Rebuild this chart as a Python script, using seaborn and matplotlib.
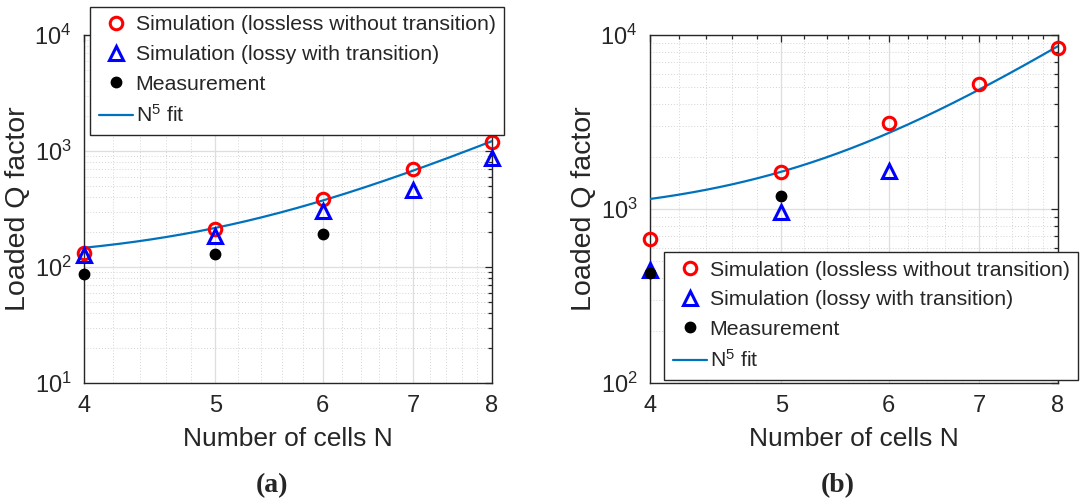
import numpy as np
import pandas as pd
import matplotlib
matplotlib.use("Agg")
import matplotlib.pyplot as plt
import seaborn as sns
from matplotlib.ticker import FixedLocator, FixedFormatter, NullFormatter, LogLocator, LogFormatterMathtext

# ---------------- data ----------------
cells_N = [4, 5, 6, 7, 8]
cells_lossy_b = [4, 5, 6]
cells_meas_a = [4, 5, 6]
cells_meas_b = [4, 5]

a_lossless = [133, 211, 383, 703, 1203]
a_lossy = [128, 185, 304, 461, 865]
a_meas = [87, 130, 191]

b_lossless = [668, 1641, 3118, 5200, 8380]
b_lossy = [445, 965, 1648]
b_meas = [430, 1190]

x_ticks = [4, 5, 6, 7, 8]
x_minor = [4.2, 4.4, 4.6, 4.8, 5.2, 5.4, 5.6, 5.8, 6.2, 6.4, 6.6, 6.8, 7.2, 7.4, 7.6, 7.8]

lab_lossless = "Simulation (lossless without transition)"
lab_lossy = "Simulation (lossy with transition)"
lab_meas = "Measurement"
lab_fit = "N$^5$ fit"

# ---------------- style ----------------
sns.set_theme(style="white")
plt.rcParams["font.family"] = ["Liberation Sans", "DejaVu Sans"]
plt.rcParams["mathtext.fontset"] = "custom"
plt.rcParams["mathtext.rm"] = "Liberation Sans"
plt.rcParams["mathtext.it"] = "Liberation Sans:italic"
plt.rcParams["mathtext.bf"] = "Liberation Sans:bold"

DARK = "#262626"
FIT_C = "#0072BD"

fig = plt.figure(figsize=(10.8, 5.04), dpi=100)
ax_a = fig.add_axes([84 / 1080, 1 - 383 / 504, 408 / 1080, 348 / 504])
ax_b = fig.add_axes([650 / 1080, 1 - 383 / 504, 408 / 1080, 348 / 504])


def n5_fit(N, Q):
    X = np.power(np.asarray(N, float), 5)
    A = np.vstack([np.ones_like(X), X]).T
    coef, *_ = np.linalg.lstsq(A, np.asarray(Q, float), rcond=None)
    Nf = np.linspace(min(N), max(N), 200)
    return Nf, coef[0] + coef[1] * Nf ** 5


def draw(ax, lossless, lossy, lossy_N, meas, meas_N, ylim, leg_anchor):
    Nf, Qf = n5_fit(cells_N, lossless)
    df_fit = pd.DataFrame({"N": Nf, "Q": Qf})
    sns.lineplot(data=df_fit, x="N", y="Q", ax=ax, color=FIT_C, linewidth=1.6,
                 label=lab_fit, zorder=3)
    df1 = pd.DataFrame({"N": cells_N, "Q": lossless})
    sns.lineplot(data=df1, x="N", y="Q", ax=ax, linestyle="", marker="o",
                 markersize=9, markerfacecolor="none", markeredgecolor="red",
                 markeredgewidth=2.2, color="red", label=lab_lossless, zorder=4,
                 clip_on=False)
    df2 = pd.DataFrame({"N": lossy_N, "Q": lossy})
    sns.lineplot(data=df2, x="N", y="Q", ax=ax, linestyle="", marker="^",
                 markersize=10, markerfacecolor="none", markeredgecolor="blue",
                 markeredgewidth=2.2, color="blue", label=lab_lossy, zorder=5,
                 clip_on=False)
    df3 = pd.DataFrame({"N": meas_N, "Q": meas})
    sns.lineplot(data=df3, x="N", y="Q", ax=ax, linestyle="", marker="o",
                 markersize=7.5, markerfacecolor="black", markeredgecolor="black",
                 markeredgewidth=1, color="black", label=lab_meas, zorder=6,
                 clip_on=False)

    ax.set_xscale("log")
    ax.set_yscale("log")
    ax.set_xlim(4, 8)
    ax.set_ylim(*ylim)
    ax.xaxis.set_major_locator(FixedLocator(x_ticks))
    ax.xaxis.set_major_formatter(FixedFormatter([str(t) for t in x_ticks]))
    ax.xaxis.set_minor_locator(FixedLocator(x_minor))
    ax.xaxis.set_minor_formatter(NullFormatter())
    ax.yaxis.set_major_locator(LogLocator(base=10, numticks=10))
    ax.yaxis.set_major_formatter(LogFormatterMathtext())
    ax.yaxis.set_minor_locator(LogLocator(base=10, subs=np.arange(2, 10), numticks=20))
    ax.yaxis.set_minor_formatter(NullFormatter())

    ax.grid(True, which="major", color="#dedede", linewidth=0.9, linestyle="-")
    ax.grid(True, which="minor", color="#d4d4d4", linewidth=0.7, linestyle=(0, (1, 2)))
    ax.set_axisbelow(True)

    ax.tick_params(which="both", direction="in", top=True, right=True,
                   colors=DARK, labelsize=17, width=0.9)
    ax.tick_params(which="major", length=5, pad=9)
    ax.tick_params(which="minor", length=3)
    for sp in ax.spines.values():
        sp.set_color(DARK)
        sp.set_linewidth(1.0)

    ax.set_xlabel("Number of cells N", fontsize=19, color=DARK, labelpad=7)
    ax.set_ylabel("Loaded Q factor", fontsize=20.5, color=DARK, labelpad=2)

    h, l = ax.get_legend_handles_labels()
    order = [lab_lossless, lab_lossy, lab_meas, lab_fit]
    hd = {lab: hh for hh, lab in zip(h, l)}
    leg = ax.legend([hd[o] for o in order], order, loc="upper left",
                    bbox_to_anchor=leg_anchor, bbox_transform=fig.transFigure,
                    fontsize=15.3, frameon=True, fancybox=False, framealpha=1,
                    edgecolor=DARK, borderpad=0.4, labelspacing=0.5,
                    handlelength=1.6, handletextpad=0.15, borderaxespad=0)
    leg.get_frame().set_linewidth(1.0)
    leg.set_zorder(10)


draw(ax_a, a_lossless, a_lossy, cells_N, a_meas, cells_meas_a, (10, 1e4),
     (90 / 1080, 1 - 7 / 504))
draw(ax_b, b_lossless, b_lossy, cells_lossy_b, b_meas, cells_meas_b, (100, 1e4),
     (664 / 1080, 1 - 252 / 504))

fig.text(272 / 1080, 1 - 486 / 504, "(a)", ha="center", va="center",
         fontsize=20, fontweight="bold", family=["Liberation Serif", "DejaVu Serif"])
fig.text(838 / 1080, 1 - 486 / 504, "(b)", ha="center", va="center",
         fontsize=20, fontweight="bold", family=["Liberation Serif", "DejaVu Serif"])

fig.savefig("out.png", dpi=100)
